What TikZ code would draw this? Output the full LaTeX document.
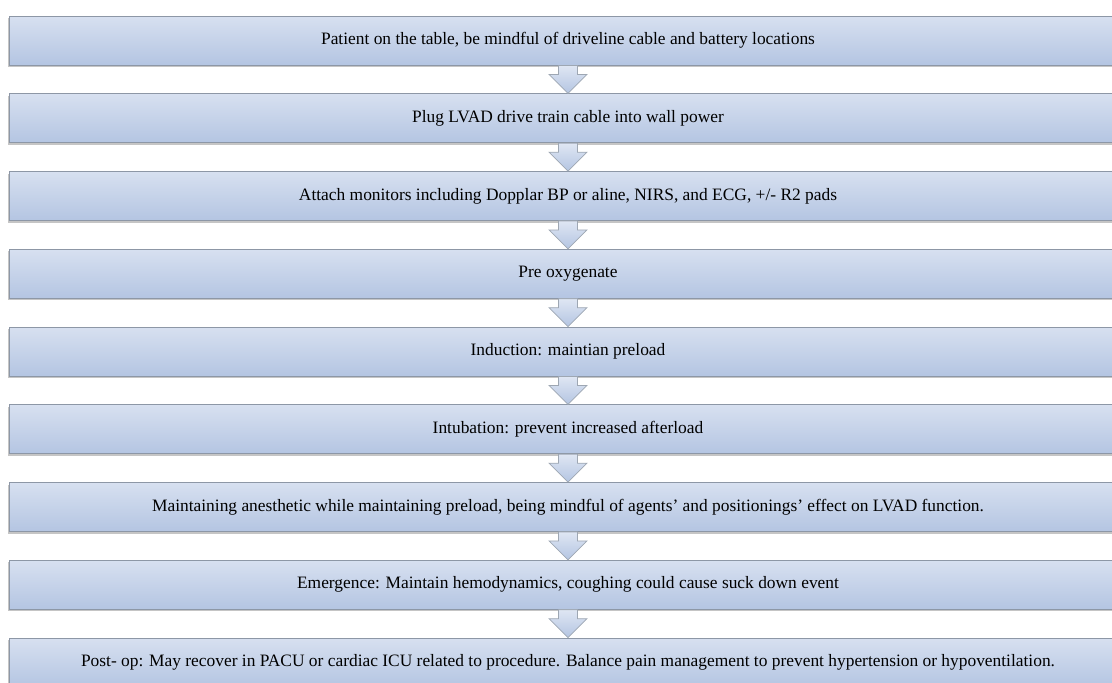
\documentclass[tikz,border=0pt]{standalone}
\usepackage{fontspec}
\setmainfont{Liberation Serif}
\usetikzlibrary{calc,shadows}
\definecolor{boxtop}{HTML}{D7E0F0}
\definecolor{boxbot}{HTML}{B4C5E2}
\definecolor{boxline}{HTML}{8D97A6}
\tikzset{
  font={\fontsize{17.4pt}{20}\selectfont}}
\tikzset{
  stepbox/.style={draw=boxline, line width=0.9pt, top color=boxtop, bottom color=boxbot,
    minimum width=1118pt, minimum height=49pt, inner sep=0pt,
    drop shadow={shadow xshift=-1pt, shadow yshift=-2pt, fill=black!45, opacity=0.5}},
  flowarrow/.style={draw=boxline!85, line width=0.7pt, top color=boxtop!80!white, bottom color=boxbot}}
\newcommand{\flowdown}[2]{%
  \draw[flowarrow] ($(#1.south)+(-9.5,0)$) -- ($(#1.south)+(-9.5,9)$) -- ($(#1.south)+(-19,9)$)
    -- (#2.north) -- ($(#1.south)+(19,9)$) -- ($(#1.south)+(9.5,9)$) -- ($(#1.south)+(9.5,0)$) -- cycle;}

\begin{document}
\begin{tikzpicture}[x=1pt,y=-1pt]
\useasboundingbox (0,0) rectangle (1112,683);
\node [stepbox] (s1) at (568,40.5) {Patient on the table, be mindful of driveline cable and battery locations};
\node [stepbox] (s2) at (568,118.25) {Plug LVAD drive train cable into wall power};
\node [stepbox] (s3) at (568,196) {Attach monitors including Dopplar BP or aline, NIRS, and ECG, +/- R2 pads};
\node [stepbox] (s4) at (568,273.75) {Pre oxygenate};
\node [stepbox] (s5) at (568,351.5) {Induction: maintian preload};
\node [stepbox] (s6) at (568,429.25) {Intubation: prevent increased afterload};
\node [stepbox] (s7) at (568,507) {Maintaining anesthetic while maintaining preload, being mindful of agents' and positionings' effect on LVAD function.};
\node [stepbox] (s8) at (568,584.75) {Emergence: Maintain hemodynamics, coughing could cause suck down event};
\node [stepbox] (s9) at (568,662.5) {Post- op: May recover in PACU or cardiac ICU related to procedure. Balance pain management to prevent hypertension or hypoventilation.};
% arrows
\flowdown{s1}{s2}
\flowdown{s2}{s3}
\flowdown{s3}{s4}
\flowdown{s4}{s5}
\flowdown{s5}{s6}
\flowdown{s6}{s7}
\flowdown{s7}{s8}
\flowdown{s8}{s9}
\end{tikzpicture}
\end{document}
